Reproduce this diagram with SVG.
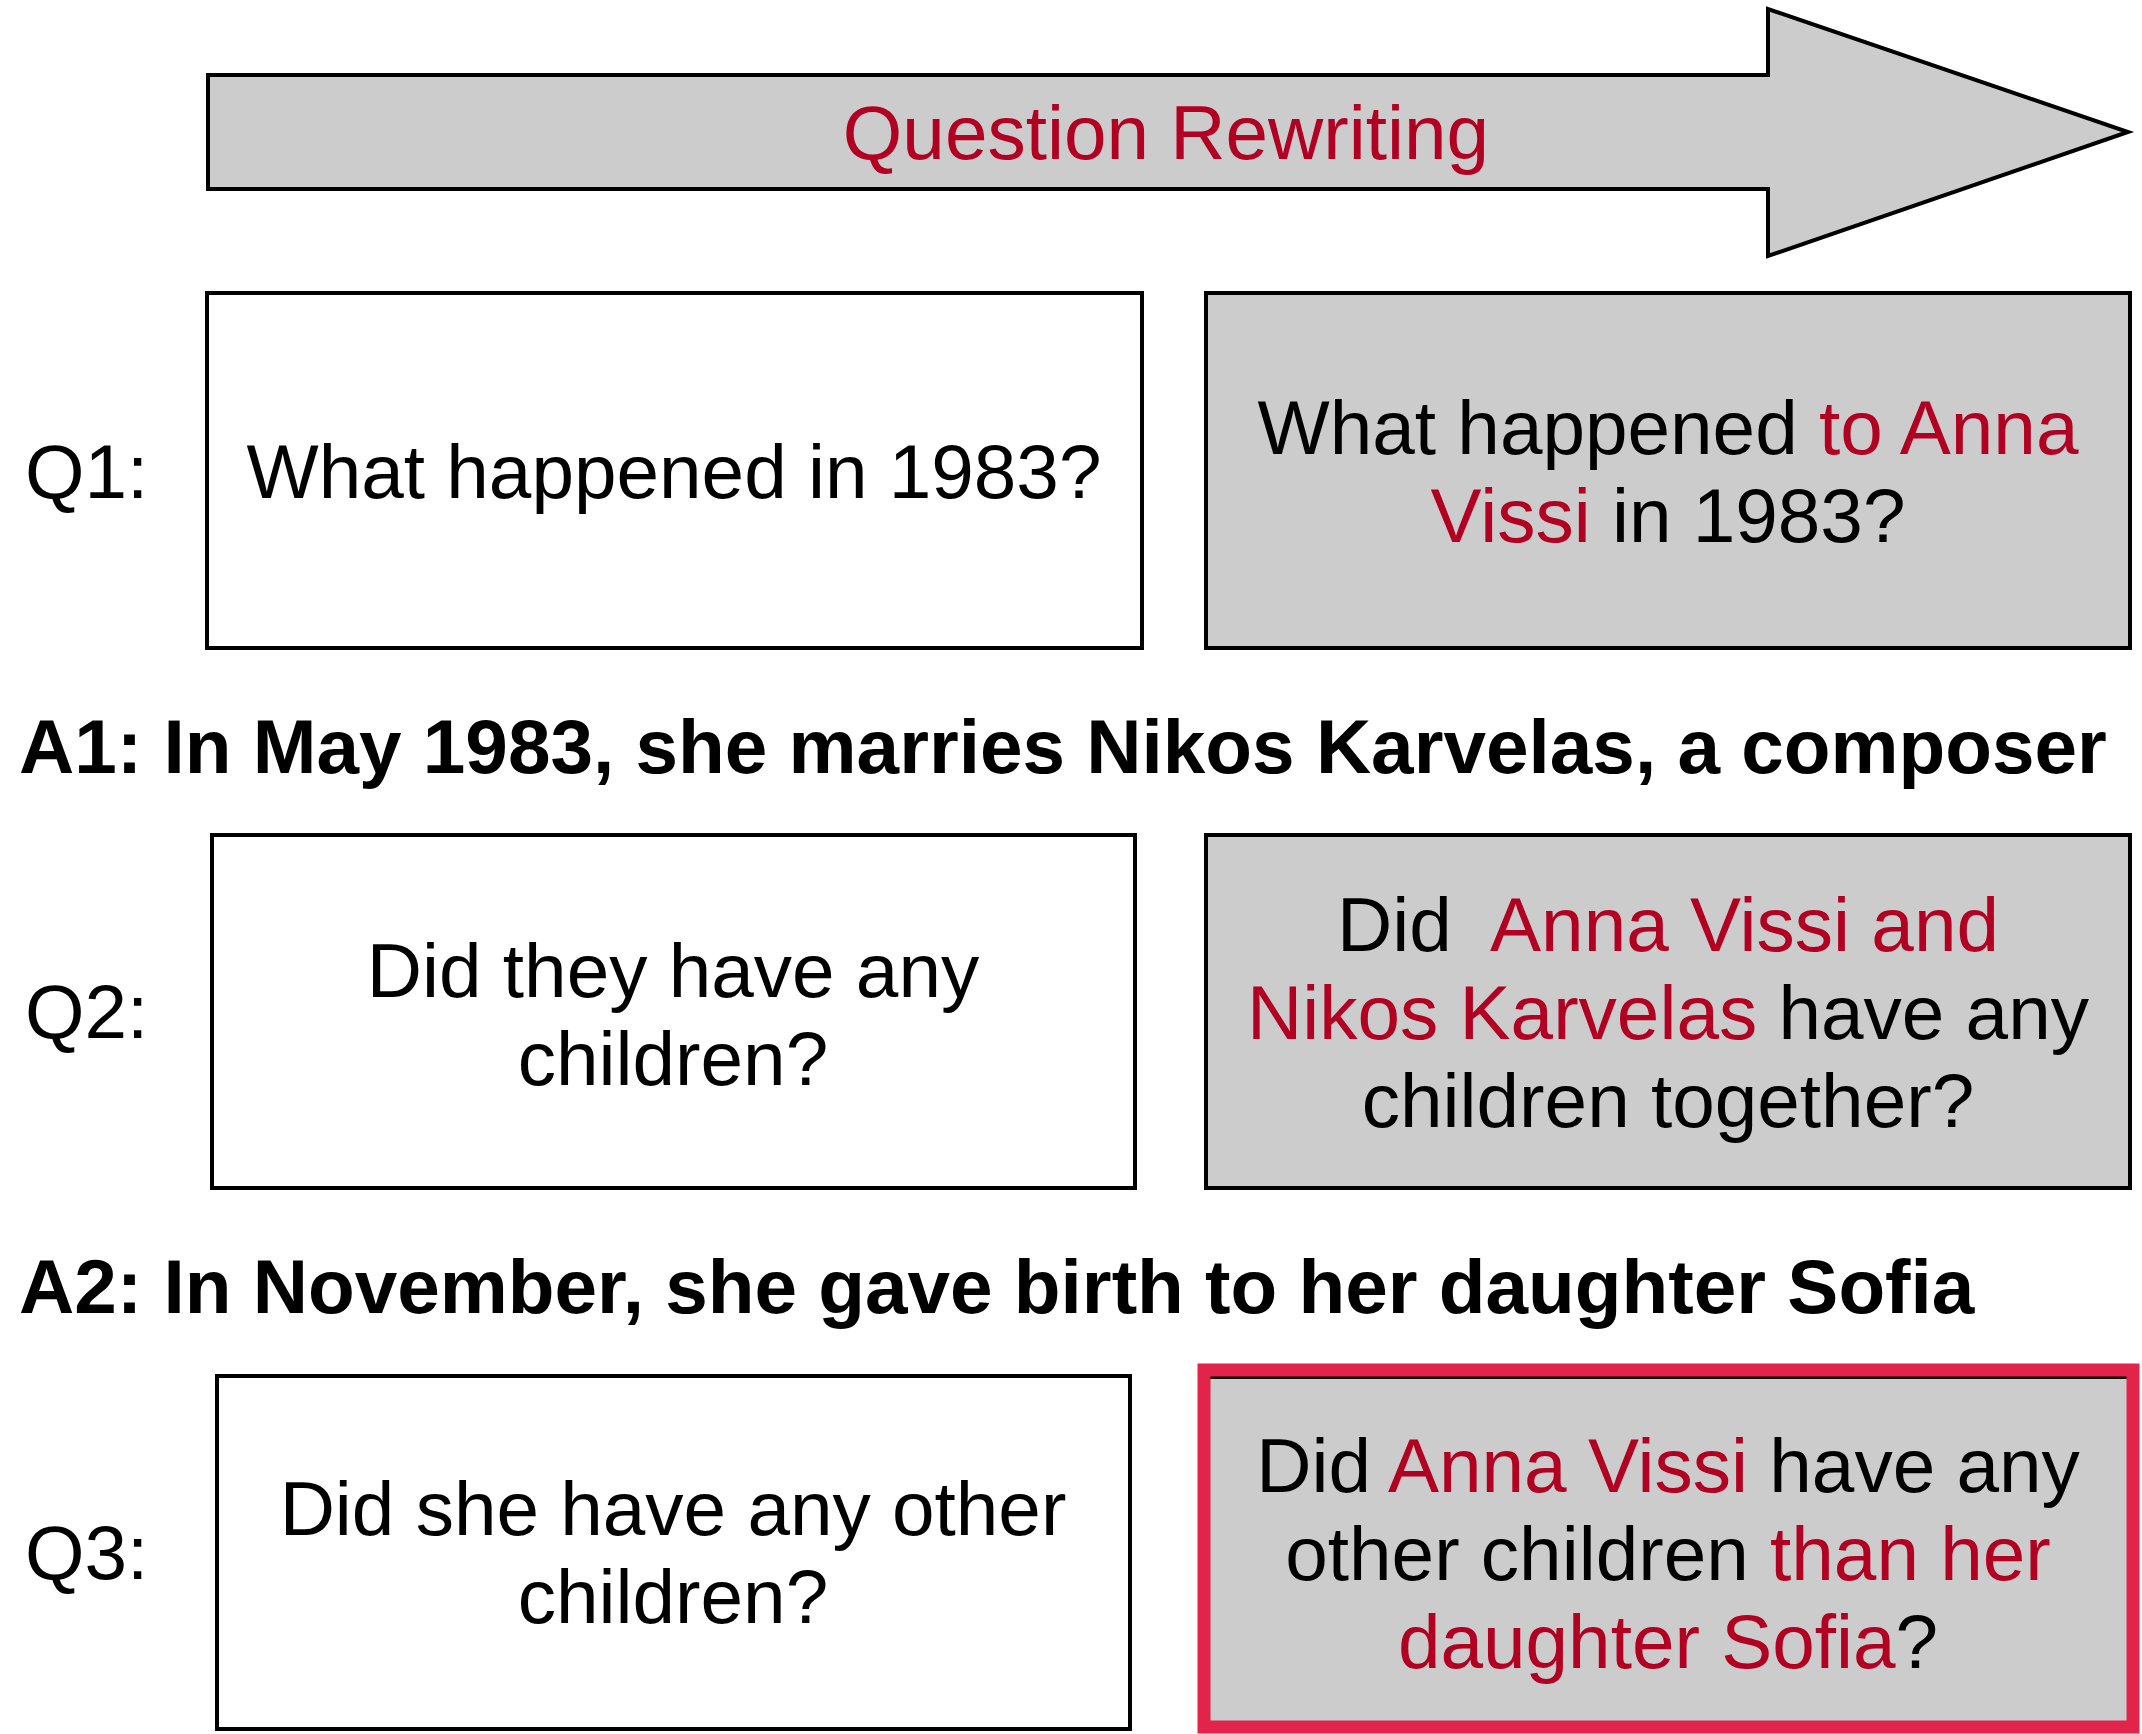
<svg xmlns="http://www.w3.org/2000/svg" width="2142" height="1734" viewBox="0 0 2142 1734">
  <style>
    text { font-family: "Liberation Sans", Arial, Helvetica, sans-serif; font-size: 76.5px; fill: #000; }
    .mid { text-anchor: middle; }
    .hl { fill: #B10021; }
    .bold { font-weight: bold; }
    .box { fill: #FFFFFF; stroke: #000; stroke-width: 4; }
    .rw { fill: #CCCCCC; stroke: #000; stroke-width: 4; }
    .focus { fill: none; stroke: #E2234A; stroke-width: 13; }
  </style>

  <!-- big block arrow -->
  <g id="rewriting-arrow">
    <polygon points="208,75 1768,75 1768,9 2128,132 1768,256 1768,189 208,189" fill="#CCCCCC" stroke="#000" stroke-width="4" stroke-linejoin="miter"/>
    <text class="mid hl" x="1166" y="159">Question Rewriting</text>
  </g>

  <g id="connectors"></g>

  <!-- row 1 -->
  <g id="q1-label"><text x="25" y="498">Q1:</text></g>
  <g id="q1-original">
    <rect class="box" x="207" y="293" width="935" height="355"/>
    <text class="mid" x="674" y="498">What happened in 1983?</text>
  </g>
  <g id="q1-rewritten">
    <rect class="rw" x="1206" y="293" width="924" height="355"/>
    <text class="mid" x="1668" y="454">What happened <tspan class="hl">to Anna</tspan></text>
    <text class="mid" x="1668" y="542"><tspan class="hl">Vissi</tspan> in 1983?</text>
  </g>

  <g id="a1"><text class="bold" x="19" y="773">A1: In May 1983, she marries Nikos Karvelas, a composer</text></g>

  <!-- row 2 -->
  <g id="q2-label"><text x="25" y="1038">Q2:</text></g>
  <g id="q2-original">
    <rect class="box" x="212" y="835" width="923" height="353"/>
    <text class="mid" x="673" y="997">Did they have any</text>
    <text class="mid" x="673" y="1085">children?</text>
  </g>
  <g id="q2-rewritten">
    <rect class="rw" x="1206" y="835" width="924" height="353"/>
    <text class="mid" x="1668" y="951" xml:space="preserve">Did  <tspan class="hl">Anna Vissi and</tspan></text>
    <text class="mid" x="1668" y="1039"><tspan class="hl">Nikos Karvelas</tspan> have any</text>
    <text class="mid" x="1668" y="1127">children together?</text>
  </g>

  <g id="a2"><text class="bold" x="19" y="1313">A2: In November, she gave birth to her daughter Sofia</text></g>

  <!-- row 3 -->
  <g id="q3-label"><text x="25" y="1579">Q3:</text></g>
  <g id="q3-original">
    <rect class="box" x="217" y="1376" width="913" height="353"/>
    <text class="mid" x="673" y="1535">Did she have any other</text>
    <text class="mid" x="673" y="1623">children?</text>
  </g>
  <g id="q3-rewritten">
    <rect class="rw" x="1206" y="1377" width="924" height="353"/>
    <rect class="focus" x="1204" y="1370" width="929" height="357"/>
    <text class="mid" x="1668" y="1492">Did <tspan class="hl">Anna Vissi</tspan> have any</text>
    <text class="mid" x="1668" y="1580">other children <tspan class="hl">than her</tspan></text>
    <text class="mid" x="1668" y="1668"><tspan class="hl">daughter Sofia</tspan>?</text>
  </g>
</svg>
